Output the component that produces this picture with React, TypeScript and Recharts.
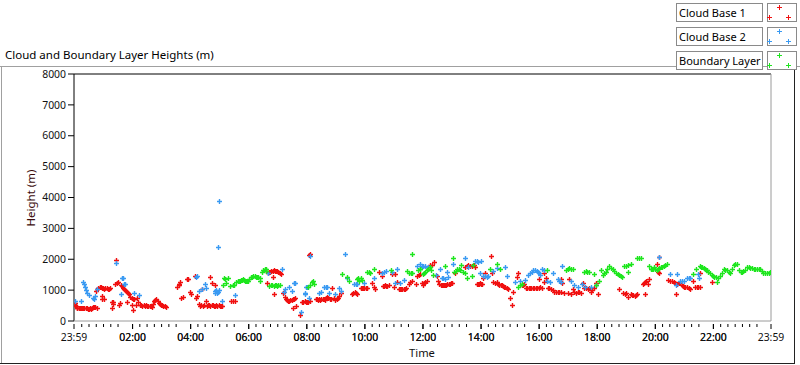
import React from 'react';
import { ScatterChart, Scatter, XAxis, YAxis, ReferenceLine } from 'recharts';

// time = hours after 23:59 (previous day), height in metres
const cloudBase1: number[][] = [
  [0.02,580],[0.04,520],[0.06,470],[0.09,430],[0.12,420],[0.16,410],[0.2,410],[0.24,405],[0.28,410],[0.32,410],[0.36,405],[0.4,410],[0.44,405],[0.48,400],[0.52,395],[0.56,410],[0.6,400],[0.63,420],[0.66,450],[0.7,450],[0.74,440],[0.78,420],
  [0.76,980],[0.8,1030],[0.84,1080],[0.88,1100],[0.92,1090],[0.96,1080],[1.0,1060],[1.04,1040],[1.08,1060],[1.12,1070],[1.16,1050],[1.2,1040],[1.24,1060],
  [0.98,820],[0.95,710],[1.05,710],[1.3,600],[1.34,560],[1.36,620],[1.31,420],
  [1.42,1210],[1.45,1960],[1.47,1230],[1.52,1250],[1.56,520],[1.6,570],
  [1.63,1160],[1.66,1120],[1.7,1080],[1.73,1040],[1.76,1000],[1.79,960],[1.83,930],[1.87,900],[1.9,880],
  [1.82,630],[1.94,780],[1.98,750],[2.02,720],[2.06,700],[2.0,510],[2.02,360],[2.12,530],[2.18,730],[2.22,600],
  [2.27,520],[2.31,510],[2.35,500],[2.4,510],[2.44,500],[2.48,510],[2.52,490],[2.56,500],[2.6,480],[2.64,470],[2.68,440],[2.72,560],[2.76,640],[2.8,690],[2.84,700],[2.88,650],[2.92,580],[2.96,540],[3.0,520],[3.04,530],[3.08,500],[3.12,480],[3.16,450],
  [3.56,1110],[3.6,1160],[3.63,1200],[3.66,1260],[3.7,750],[3.74,780],[3.9,1350],[3.94,1360],[4.0,930],[4.04,880],[4.16,1460],[4.2,760],[4.23,800],[4.3,540],[4.34,500],[4.38,520],[4.41,1050],[4.45,490],[4.49,530],[4.55,660],[4.58,500],[4.62,520],[4.66,510],[4.69,1420],[4.7,500],[4.74,510],[4.76,1220],[4.78,520],[4.82,500],[4.84,1180],[4.86,500],[4.9,510],[4.94,490],[4.98,510],[5.02,480],[5.06,500],[5.1,470],[5.41,650],[5.47,650],[5.53,650],
  [6.62,1630],[6.64,1220],[6.67,1540],[6.71,1580],[6.75,1600],[6.79,1610],[6.84,1630],[6.88,1640],[6.92,1630],[6.96,1620],[7.0,1610],[7.04,1590],[7.08,1560],[7.12,1530],[6.85,1420],[6.9,880],
  [7.19,900],[7.25,770],[7.29,700],[7.33,680],[7.37,660],[7.41,650],[7.45,670],[7.49,680],[7.53,700],[7.57,720],[7.6,740],[7.54,410],[7.65,490],[7.79,180],[7.86,620],[7.9,600],[7.94,640],[7.98,620],[8.02,600],[8.06,630],
  [8.1,2130],[8.14,2170],[8.11,650],[8.32,720],[8.36,700],[8.4,690],[8.44,710],[8.48,690],[8.52,700],[8.56,720],[8.6,700],[8.64,690],[8.68,740],[8.72,790],[8.76,740],[8.8,700],[8.84,720],[8.89,1060],[8.94,760],[9.0,690],[9.04,720],[9.08,760],[9.12,800],[9.18,900],
  [9.58,860],[9.62,900],[9.66,940],[9.7,920],[9.74,880],
  [9.87,1060],[9.92,1080],[9.96,1070],[10.0,1060],[10.04,1070],[10.08,1080],
  [10.27,1220],[10.33,1110],[10.38,1030],[10.5,1600],[10.59,1460],[10.63,1140],[10.67,1130],[10.71,1150],[10.75,1140],[10.79,1130],[10.84,1150],[10.96,1520],[11.02,1110],[11.07,1530],[11.13,1270],
  [11.19,1040],[11.23,1050],[11.27,1030],[11.31,1040],[11.35,1050],[11.39,1040],[11.43,1060],
  [11.53,1200],[11.58,1250],[11.65,1290],[11.76,1200],[11.82,1450],[11.87,1500],[11.93,1530],[11.99,1220],
  [12.02,1180],[12.06,1220],[12.1,1260],[12.14,1300],[12.2,1760],[12.25,1800],[12.31,1820],[12.39,1920],[12.5,1450],[12.54,1300],[12.58,1200],[12.62,1150],[12.66,1170],[12.7,1160],[12.74,1180],[12.78,1150],[12.82,1170],[12.86,1200],[12.9,1190],[12.94,1210],[12.98,1230],[13.02,1220],[13.11,1540],
  [13.46,1760],[13.52,1790],[13.58,1800],[13.64,1780],[13.7,1770],[13.76,1800],[13.82,1760],
  [13.86,1200],[13.9,1210],[13.94,1190],[13.98,1220],[14.02,1200],[14.06,1190],[14.09,1380],[14.15,1540],
  [14.35,2100],[14.38,1540],[14.43,1260],[14.49,1240],[14.55,1250],
  [14.61,1200],[14.65,1180],[14.69,1160],[14.73,1150],[14.77,1130],[14.81,1110],[14.85,1100],[14.9,1080],[14.95,1050],[15.01,740],[15.07,520],[15.13,950],[15.24,1420],[15.3,1570],
  [15.41,1170],[15.46,1150],[15.5,1200],[15.55,1080],[15.6,1070],[15.65,1080],[15.7,1070],[15.75,1070],[15.8,1080],[15.85,1070],[15.9,1080],[15.95,1070],
  [16.0,1080],[16.02,1350],[16.06,1090],[16.1,1080],[16.17,1270],[16.19,1540],[16.25,1380],[16.31,1080],[16.36,1060],[16.42,1030],[16.48,990],[16.54,950],[16.6,940],[16.65,940],[16.71,950],[16.77,1350],[16.77,950],[16.82,1220],[16.88,900],[17.0,900],[17.05,1350],[17.11,870],[17.17,1050],[17.22,940],[17.28,920],[17.34,930],[17.4,950],[17.45,920],[17.51,1240],[17.57,1060],[17.63,1060],[17.69,1050],[17.74,1060],[17.8,950],[17.85,1000],[17.9,1060],[17.97,1220],[18.03,875],
  [18.75,1030],[18.92,900],[18.96,890],[19.0,910],[19.06,770],[19.18,860],[19.22,830],[19.26,850],[19.3,820],[19.35,840],[19.4,860],[19.66,870],[19.58,1200],[19.62,1230],[19.66,1260],[19.7,1280],[19.75,1200],[19.81,1350],
  [20.07,1850],[20.1,1590],[20.14,1540],[20.16,2060],[20.47,1340],[20.53,1300],[20.6,1280],[20.66,1260],[20.7,1240],[20.73,890],[20.76,1200],[20.8,1230],[20.84,1240],[20.87,1220],[20.92,1160],[20.96,1120],[20.99,1100],[21.04,1100],[21.1,1090],[21.16,1070],[21.22,1050],[21.33,1300],[21.4,1100],[21.45,1110],[21.5,1100],[21.56,1540],[21.56,1110],[21.98,1260],
];

const cloudBase2: number[][] = [
  [0.04,660],[0.23,650],[0.3,1270],[0.34,1200],[0.38,1100],[0.42,1000],[0.46,900],[0.53,830],[0.66,760],[0.7,720],[0.73,800],[0.8,1050],[1.45,1870],[1.62,875],[1.66,1380],[1.7,1380],[1.72,1200],[1.76,1190],[2.07,900],[2.24,830],
  [4.21,1420],[4.25,1450],[4.3,980],[4.41,1050],[4.5,1200],[4.53,1060],[4.84,960],[4.87,920],[4.9,1000],[4.93,900],[4.96,950],[4.98,1000],[5.01,3890],[4.95,2400],[5.09,660],[5.53,850],[6.67,1540],[7.17,1700],[7.23,930],[7.28,1030],[7.4,1090],[7.5,980],[7.57,1240],[7.62,1240],[7.8,300],[7.94,900],[7.99,1100],
  [7.97,870],[8.03,1110],[8.09,740],[8.12,2100],[8.43,900],[8.49,950],[8.6,1100],[8.66,1100],[8.7,1100],[8.78,900],[9.0,880],[9.12,1060],[9.18,980],[9.33,2170],[9.41,1400],[9.64,1200],[9.7,1200],[9.75,1200],[10.0,1220],[10.33,1380],[10.61,1560],[10.67,1600],[10.73,1620],[10.96,1600],[11.07,1240],[11.13,1700],[11.24,1220],[11.36,1340],[11.82,1780],[11.93,1830],
  [11.97,1750],[12.03,1790],[12.1,1780],[12.2,1760],[12.48,1480],[12.6,1700],[12.66,1390],[12.72,1380],[12.77,1350],[12.83,1590],[12.88,1430],[13.06,1860],[13.46,2030],[13.57,1750],[13.8,1930],[13.86,1950],[13.92,1920],[13.98,1540],[14.03,1940],[14.1,1450],[14.15,1460],[14.21,1440],[14.26,1450],[14.43,1630],[14.55,1730],[14.84,1750],[14.9,1460],[15.18,1270],[15.35,1300],[15.53,1340],[15.64,1500],[15.7,1550],[15.76,1600],[15.82,1640],[15.87,1650],[15.93,1620],[15.99,1600],
  [16.0,1550],[16.05,1500],[16.1,1680],[16.2,1660],[16.3,1300],[16.4,1250],[16.48,1560],[16.65,1350],[16.7,1300],[16.77,1250],[16.79,1780],[17.11,1280],[17.2,1180],[17.34,1100],[17.5,1200],[17.6,1100],[17.8,1100],[17.97,1150],
  [20.13,2060],[20.53,1510],[20.73,1160],[20.76,1510],[20.87,1300],[20.93,1300],[20.99,1300],[21.1,1380],[21.16,1380],[21.2,1380],[21.5,1510],[21.52,1380],
];

const boundaryLayer: number[][] = [
  [5.13,1165],[5.18,1380],[5.21,1350],[5.24,1240],[5.3,1400],[5.36,1130],[5.47,1165],[5.52,1150],[5.59,1250],[5.63,1280],[5.67,1300],[5.7,1310],[5.74,1330],[5.78,1340],[5.81,1350],[5.85,1330],[5.89,1310],[5.93,1300],[5.97,1290],[6.0,1280],[6.04,1350],[6.1,1420],[6.14,1440],[6.18,1450],[6.22,1450],[6.26,1440],[6.3,1420],[6.35,1430],[6.39,1380],[6.41,1280],[6.48,1600],[6.52,1650],[6.56,1700],[6.6,1680],[6.62,1620],
  [6.73,1130],[6.78,1170],[6.82,1150],[6.87,1120],[6.92,1160],[6.96,1150],[7.0,1130],[7.04,1170],[7.08,1160],
  [8.06,1100],[8.14,1160],[8.2,1250],[8.23,1300],[8.26,1200],[9.24,1510],[9.41,1430],[9.46,1300],[9.75,1350],[9.79,1400],[9.83,1300],[9.87,1380],[9.92,1320],[10.1,1580],[10.15,1600],[10.2,1560],[10.33,1670],[10.9,1650],[11.47,1630],[11.53,1540],[11.6,1550],[11.65,1540],[11.65,2180],[11.85,1650],[11.9,1700],[11.93,1680],
  [12.0,1520],[12.05,1560],[12.1,1600],[12.15,1650],[12.2,1700],[12.25,1750],[12.3,1650],[12.37,1500],[12.77,1780],[13.06,2030],[13.1,1580],[13.15,1620],[13.2,1680],[13.25,1700],[13.3,1650],[13.34,1810],[13.4,1600],[13.46,1550],[13.52,1390],[13.69,1460],[13.75,1810],[14.32,1670],[14.55,1830],[14.67,1670],[15.3,1100],[15.35,1150],[15.41,1200],
  [16.28,1650],[16.94,1640],[17.0,1700],[17.06,1730],[17.12,1700],[17.17,1680],[17.57,1600],[17.62,1620],[17.68,1600],[17.74,1580],[17.91,1520],[17.97,1160],[18.09,1300],[18.14,1650],[18.2,1490],[18.26,1540],[18.32,1600],[18.37,1690],[18.43,1780],[18.49,1730],[18.55,1680],[18.6,1620],[18.66,1560],[18.72,1520],[18.78,1480],[18.83,1450],[18.87,1430],[18.95,1780],[19.0,1790],[19.06,1810],[19.06,1600],[19.18,1850],[19.4,2040],[19.46,2050],[19.52,2040],[19.81,1780],[19.86,1700],[19.9,1680],[19.94,1700],[19.98,1750],
  [20.02,1700],[20.07,1660],[20.12,1690],[20.16,1720],[20.22,1740],[20.26,1760],[20.3,1780],[20.36,1800],[20.41,1830],[21.31,1510],[21.42,1670],[21.56,1770],[21.6,1760],[21.64,1740],[21.68,1730],[21.72,1700],[21.76,1660],[21.79,1640],[21.84,1600],[21.9,1540],[21.96,1480],[22.0,1450],[22.05,1430],[22.1,1420],[22.14,1270],[22.19,1380],[22.25,1460],[22.3,1560],[22.37,1670],[22.42,1660],[22.48,1640],[22.54,1600],[22.6,1560],[22.65,1680],[22.71,1800],[22.77,1830],[22.83,1850],[22.89,1650],[22.95,1600],[23.0,1580],[23.05,1610],[23.1,1640],[23.17,1760],[23.23,1740],[23.29,1720],[23.35,1710],[23.41,1700],[23.46,1700],[23.51,1700],[23.57,1690],[23.63,1680],[23.68,1620],[23.74,1570],[23.8,1550],[23.86,1540],[23.92,1570],[23.97,1600],
];

const timeLabels = ['23:59','02:00','04:00','06:00','08:00','10:00','12:00','14:00','16:00','18:00','20:00','22:00','23:59'];
const heightTicks = [0,1000,2000,3000,4000,5000,6000,7000,8000];
const seriesNames = ['Cloud Base 1','Cloud Base 2','Boundary Layer'];
const seriesColors = ['#f01010','#3a9af2','#1ee61e'];

const FONT = '"Noto Sans", "DejaVu Sans", sans-serif';

// hours after 23:59
const labelToHours = (s: string, i: number) => {
  if (i === 0) return 0;
  if (i === timeLabels.length - 1) return 24;
  const [h, m] = s.split(':').map(Number);
  return h + m / 60 + 1 / 60;
};
const majorTicks = timeLabels.map(labelToHours);
const minorTicks: number[] = [];
for (let q = 1; q < 96; q++) {
  const v = q * 0.25 + 1 / 60;
  if (q % 8 !== 7) minorTicks.push(v);
}
const allTicks = [...majorTicks, ...minorTicks].sort((a, b) => a - b);
const isMajor = (v: number) => majorTicks.some((m) => Math.abs(m - v) < 1e-6);
const labelFor = (v: number) => {
  const i = majorTicks.findIndex((m) => Math.abs(m - v) < 1e-6);
  return i >= 0 ? timeLabels[i] : '';
};

const XTick = (props: any) => {
  const { x, y, payload } = props;
  const major = isMajor(payload.value);
  return (
    <g>
      <line x1={x} x2={x} y1={y + 3} y2={y + (major ? 8 : 6)} stroke="#000" strokeWidth={1} />
      {major && (
        <text x={x} y={y + 20} textAnchor="middle" fontSize={10.4} fontFamily={FONT} fill="#111">
          {labelFor(payload.value)}
        </text>
      )}
    </g>
  );
};

const plus = (color: string) => (p: any) => {
  const { cx, cy } = p;
  if (cx == null || cy == null) return <g />;
  const x = Math.round(cx) + 0.5;
  const y = Math.round(cy) + 0.5;
  return (
    <path d={`M${x - 2.5},${y}H${x + 2.5}M${x},${y - 2.5}V${y + 2.5}`} stroke={color} strokeWidth={1.4} fill="none" />
  );
};

const toPoints = (arr: number[][]) => arr.map(([t, h]) => ({ t, h }));

const LegendRow = ({ idx }: { idx: number }) => {
  const top = 3 + idx * 24;
  const c = seriesColors[idx];
  const ix = 767;
  const pts = [[ix + 12, top + 4], [ix + 2, top + 14], [ix + 21, top + 14]];
  return (
    <g>
      <rect x={676.5} y={top + 0.5} width={86} height={18} fill="#fff" stroke="#8a8a8a" />
      <text x={679} y={top + 14} fontSize={11} fontFamily={FONT} fill="#000">{seriesNames[idx]}</text>
      <rect x={ix + 0.5} y={top + 0.5} width={29} height={18} fill="#fff" stroke="#8a8a8a" />
      {pts.map(([px, py], k) => (
        <path key={k} d={`M${px - 2},${py + 0.5}H${px + 3}M${px + 0.5},${py - 2}V${py + 3}`} stroke={c} strokeWidth={1} />
      ))}
    </g>
  );
};

export default function App() {
  return (
    <div style={{ position: 'relative', width: 800, height: 365, background: '#fff', overflow: 'hidden' }}>
      <style>{'body{margin:0;background:#fff}'}</style>
      <svg width={800} height={365} style={{ position: 'absolute', left: 0, top: 0 }}>
        <line x1={0} x2={800} y1={66.5} y2={66.5} stroke="#a0a0a0" />
        <line x1={1.5} x2={1.5} y1={66} y2={363} stroke="#a0a0a0" />
        <line x1={0} x2={795} y1={363.5} y2={363.5} stroke="#222" />
        <line x1={794.5} x2={794.5} y1={66} y2={364} stroke="#222" />
        <text x={5} y={59} fontSize={11.5} fontFamily={FONT} fill="#000">Cloud and Boundary Layer Heights (m)</text>
        <text x={422} y={357} fontSize={11.2} fontFamily={FONT} fill="#111" textAnchor="middle">Time</text>
        <text x={0} y={0} fontSize={11.5} fontFamily={FONT} fill="#3a0a0a" textAnchor="middle" transform="translate(35,198) rotate(-90)">Height (m)</text>
        {seriesNames.map((_, i) => <LegendRow key={i} idx={i} />)}
      </svg>
      <div style={{ position: 'absolute', left: 0, top: 0 }}>
        <ScatterChart width={800} height={365} margin={{ top: 74, right: 29, bottom: 14, left: 14 }}>
          <XAxis
            type="number"
            dataKey="t"
            domain={[0, 24]}
            ticks={allTicks}
            interval={0}
            allowDataOverflow
            axisLine={false}
            tickLine={false}
            tickSize={0}
            tickMargin={0}
            height={30}
            tick={<XTick />}
          />
          <YAxis
            type="number"
            dataKey="h"
            domain={[0, 8000]}
            ticks={heightTicks}
            interval={0}
            allowDataOverflow
            width={60}
            axisLine={false}
            tickLine={{ stroke: '#000' }}
            tickSize={6}
            tickMargin={2}
            tick={{ fill: '#111', fontSize: 10.4, fontFamily: FONT }}
          />
          <ReferenceLine y={8000} stroke="#000" />
          <ReferenceLine x={0} stroke="#000" />
          <ReferenceLine x={24} stroke="#9a9a9a" />
          <ReferenceLine y={0} stroke="#9a9a9a" />
          <Scatter name={seriesNames[0]} data={toPoints(cloudBase1)} shape={plus(seriesColors[0])} isAnimationActive={false} />
          <Scatter name={seriesNames[1]} data={toPoints(cloudBase2)} shape={plus(seriesColors[1])} isAnimationActive={false} />
          <Scatter name={seriesNames[2]} data={toPoints(boundaryLayer)} shape={plus(seriesColors[2])} isAnimationActive={false} />
        </ScatterChart>
      </div>
    </div>
  );
}
